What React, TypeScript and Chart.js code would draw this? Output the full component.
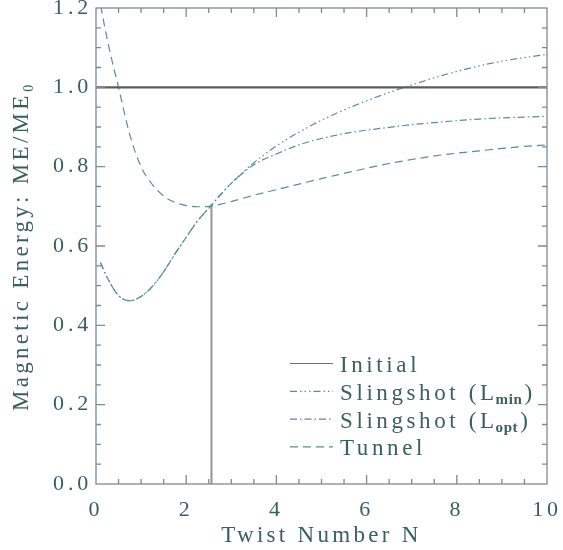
import React, { useEffect, useRef } from "react";
import { Chart, registerables } from "chart.js";

Chart.register(...registerables);

// ---- data ----
const twistN = [0, 0.25, 0.5, 0.75, 1, 1.25, 1.5, 1.75, 2, 2.25, 2.5, 2.75, 3, 3.5, 4, 4.5, 5, 5.5, 6, 6.5, 7, 7.5, 8, 8.5, 9, 9.5, 10];
const tunnelME = [1.27, 1.12, 1.0, 0.88, 0.8, 0.755, 0.726, 0.71, 0.702, 0.699, 0.7, 0.705, 0.712, 0.728, 0.742, 0.756, 0.77, 0.783, 0.796, 0.808, 0.818, 0.827, 0.834, 0.84, 0.846, 0.851, 0.855];

const slingshotN = [0.1, 0.25, 0.5, 0.75, 1, 1.25, 1.5, 1.75, 2, 2.25, 2.5, 2.75, 3, 3.5, 4, 4.5, 5, 5.5, 6, 6.5, 7, 7.5, 8, 8.5, 9, 9.5, 10];
const slingOptME = [0.558, 0.52, 0.475, 0.462, 0.473, 0.498, 0.535, 0.58, 0.622, 0.663, 0.695, 0.728, 0.758, 0.805, 0.832, 0.855, 0.871, 0.883, 0.892, 0.899, 0.906, 0.911, 0.916, 0.92, 0.923, 0.925, 0.927];
const slingMinME = [0.558, 0.52, 0.475, 0.462, 0.473, 0.498, 0.535, 0.58, 0.622, 0.663, 0.695, 0.728, 0.758, 0.81, 0.852, 0.887, 0.917, 0.943, 0.966, 0.987, 1.006, 1.024, 1.04, 1.054, 1.066, 1.075, 1.083];

const initialN = [0, 10];
const initialME = [1.0, 1.0];
const markerN = [2.56, 2.56];
const markerME = [0, 0.705];

const xTicks = [0, 2, 4, 6, 8, 10];
const yTicks = [0, 0.2, 0.4, 0.6, 0.8, 1.0, 1.2];

const legendLabels = [
  { main: "Initial", sub: "", tail: "" },
  { main: "Slingshot (L", sub: "min", tail: ")" },
  { main: "Slingshot (L", sub: "opt", tail: ")" },
  { main: "Tunnel", sub: "", tail: "" },
];

const TEXT = "#3a5f5f";
const CURVE = "#5a8e8e";
const FRAME = "#7d8c8c";
const FONT = "'Liberation Serif', 'DejaVu Serif', serif";
const TITLE_SPACING = "3.3px";
const TICK_SPACING = "3.8px";

const zip = (xs: number[], ys: number[]) => xs.map((x, i) => ({ x, y: ys[i] }));

const spacingPlugin = {
  id: "spacing",
  beforeDraw(chart: any) {
    Object.values(chart.scales).forEach((s: any) => {
      if (s.__patched) return;
      s.__patched = true;
      const origLabels = s.drawLabels.bind(s);
      const origTitle = s.drawTitle.bind(s);
      s.drawLabels = (...args: any[]) => {
        s.ctx.letterSpacing = TICK_SPACING;
        origLabels(...args);
      };
      s.drawTitle = (...args: any[]) => {
        s.ctx.letterSpacing = TITLE_SPACING;
        origTitle(...args);
      };
    });
  },
};

const framePlugin = {
  id: "frame",
  afterDatasetsDraw(chart: any) {
    const { ctx, chartArea: a, scales } = chart;
    const x = scales.x;
    const y = scales.y;
    ctx.save();
    ctx.strokeStyle = FRAME;
    ctx.lineWidth = 1.3;
    ctx.strokeRect(a.left, a.top, a.right - a.left, a.bottom - a.top);
    ctx.beginPath();
    for (let i = 1; i < 20; i++) {
      const v = i * 0.5;
      const px = x.getPixelForValue(v);
      const len = i % 4 === 0 ? 9 : 5;
      ctx.moveTo(px, a.bottom);
      ctx.lineTo(px, a.bottom - len);
      ctx.moveTo(px, a.top);
      ctx.lineTo(px, a.top + len);
    }
    for (let i = 1; i < 24; i++) {
      const v = i * 0.05;
      const py = y.getPixelForValue(v);
      const len = i % 4 === 0 ? 9 : 5;
      ctx.moveTo(a.left, py);
      ctx.lineTo(a.left + len, py);
      ctx.moveTo(a.right, py);
      ctx.lineTo(a.right - len, py);
    }
    ctx.stroke();
    ctx.restore();
  },
  afterDraw(chart: any) {
    const { ctx } = chart;
    const ds = chart.data.datasets;
    ctx.save();
    legendLabels.forEach((lab, i) => {
      const d = ds[i];
      const ly = 363.5 + i * 27.8;
      ctx.beginPath();
      ctx.setLineDash(d.borderDash || []);
      ctx.strokeStyle = i === 0 ? "#707070" : d.borderColor;
      ctx.lineWidth = 1.2;
      ctx.moveTo(290, ly);
      ctx.lineTo(333, ly);
      ctx.stroke();
      ctx.setLineDash([]);
      ctx.fillStyle = TEXT;
      ctx.textBaseline = "alphabetic";
      ctx.textAlign = "left";
      const base = ly + 8.5;
      let tx = 340;
      ctx.letterSpacing = "3.6px";
      ctx.font = `23px ${FONT}`;
      ctx.fillText(lab.main, tx, base);
      tx += ctx.measureText(lab.main).width;
      if (lab.sub) {
        ctx.letterSpacing = "0.6px";
        ctx.font = `bold 15px ${FONT}`;
        ctx.fillText(lab.sub, tx - 2, base + 4);
        tx += ctx.measureText(lab.sub).width;
        ctx.letterSpacing = "3.6px";
        ctx.font = `23px ${FONT}`;
        ctx.fillText(lab.tail, tx, base);
      }
    });
    ctx.restore();
  },
};

export default function App() {
  const ref = useRef<HTMLCanvasElement | null>(null);
  useEffect(() => {
    document.body.style.margin = "0";
    const canvas = ref.current!;
    const chart = new Chart(canvas, {
      type: "line",
      data: {
        datasets: [
          {
            label: "Initial",
            data: zip(initialN, initialME),
            borderColor: "#5c5c5c",
            borderWidth: 2.2,
            pointRadius: 0,
          },
          {
            label: "Slingshot (Lmin)",
            data: zip(slingshotN, slingMinME),
            borderColor: CURVE,
            borderWidth: 1.2,
            borderDash: [7, 3, 1.5, 3, 1.5, 3, 1.5, 3],
            pointRadius: 0,
            cubicInterpolationMode: "monotone",
          },
          {
            label: "Slingshot (Lopt)",
            data: zip(slingshotN, slingOptME),
            borderColor: CURVE,
            borderWidth: 1.2,
            borderDash: [7, 3, 1.5, 3],
            pointRadius: 0,
            cubicInterpolationMode: "monotone",
          },
          {
            label: "Tunnel",
            data: zip(twistN, tunnelME),
            borderColor: CURVE,
            borderWidth: 1.2,
            borderDash: [8, 5],
            pointRadius: 0,
            cubicInterpolationMode: "monotone",
          },
          {
            label: "",
            data: zip(markerN, markerME),
            borderColor: "#949494",
            borderWidth: 2,
            pointRadius: 0,
          },
        ],
      },
      options: {
        animation: false,
        responsive: false,
        layout: { padding: { top: 8, right: 16, left: 0, bottom: 0 } },
        plugins: { legend: { display: false }, tooltip: { enabled: false } },
        scales: {
          x: {
            type: "linear",
            min: 0,
            max: 10,
            grid: { display: false, drawTicks: false },
            border: { display: false },
            afterFit: (s: any) => {
              s.height = 66;
              s.paddingLeft = 0;
              s.paddingRight = 0;
            },
            afterBuildTicks: (s: any) => {
              s.ticks = xTicks.map((v) => ({ value: v }));
            },
            ticks: {
              color: TEXT,
              padding: 13,
              maxRotation: 0,
              font: { family: FONT, size: 22 },
              callback: (v: any) => String(v),
            },
            title: {
              display: true,
              text: "Twist Number N",
              color: TEXT,
              font: { family: FONT, size: 23 },
              padding: { top: 0, bottom: 0 },
            },
          },
          y: {
            type: "linear",
            min: 0,
            max: 1.2,
            grid: { display: false, drawTicks: false },
            border: { display: false },
            afterFit: (s: any) => {
              s.width = 96;
              s.paddingTop = 0;
              s.paddingBottom = 0;
            },
            afterBuildTicks: (s: any) => {
              s.ticks = yTicks.map((v) => ({ value: v }));
            },
            ticks: {
              color: TEXT,
              padding: 4,
              font: { family: FONT, size: 22 },
              callback: (v: any) => Number(v).toFixed(1),
            },
            title: {
              display: true,
              text: "Magnetic Energy: ME/ME₀",
              color: TEXT,
              font: { family: FONT, size: 23 },
              padding: { top: 8, bottom: 0 },
            },
          },
        },
      },
      plugins: [spacingPlugin, framePlugin],
    } as any);
    return () => chart.destroy();
  }, []);
  return (
    <div style={{ width: 563, height: 550 }}>
      <canvas ref={ref} width={563} height={550} />
    </div>
  );
}
